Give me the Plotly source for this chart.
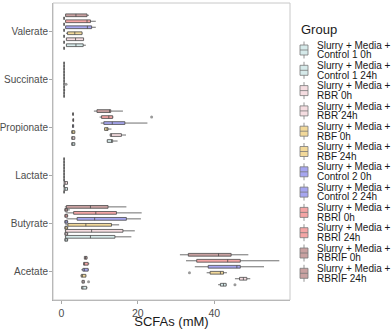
import plotly.graph_objects as go

categories = ["Acetate", "Butyrate", "Lactate", "Propionate", "Succinate", "Valerate"]
groups = ["Control 1 0h", "Control 1 24h", "RBR 0h", "RBR 24h", "RBF 0h", "RBF 24h",
          "Control 2 0h", "Control 2 24h", "RBRI 0h", "RBRI 24h", "RBRIF 0h", "RBRIF 24h"]
fills = ["#d6eaea", "#d6eaea", "#f5dde1", "#f5dde1", "#f2d99a", "#f2d99a",
         "#a6a6f0", "#a6a6f0", "#f4a5a5", "#f4a5a5", "#c9a1a1", "#c9a1a1"]

# one row per group, columns follow `categories`
lower = [
    [5.2, 0.8, 0.7, 2.6, 0.7, 0.7],
    [41.0, 0.9, 0.7, 11.9, 0.7, 1.2],
    [5.3, 0.8, 0.7, 2.6, 0.7, 0.7],
    [45.4, 0.9, 0.7, 12.6, 0.7, 1.2],
    [5.0, 0.8, 0.7, 2.6, 0.7, 0.7],
    [38.0, 1.0, 0.7, 11.2, 0.7, 1.2],
    [5.2, 0.8, 0.7, 2.8, 0.7, 0.7],
    [34.9, 1.3, 0.7, 10.3, 0.7, 1.0],
    [5.7, 0.8, 0.7, 2.9, 0.7, 0.7],
    [32.6, 1.1, 0.7, 10.0, 0.7, 1.0],
    [6.0, 0.8, 0.7, 2.9, 0.7, 0.7],
    [31.0, 0.9, 0.7, 8.5, 0.7, 1.0],
]
q1 = [
    [5.3, 0.9, 0.7, 2.7, 0.7, 0.7],
    [41.6, 1.1, 0.7, 12.0, 0.7, 1.3],
    [5.4, 0.9, 0.7, 2.7, 0.7, 0.7],
    [46.6, 1.1, 0.7, 12.8, 0.7, 1.3],
    [5.2, 0.9, 0.7, 2.7, 0.7, 0.7],
    [38.9, 1.7, 0.7, 11.3, 0.7, 1.6],
    [5.6, 0.9, 0.7, 2.9, 0.7, 0.7],
    [38.4, 4.1, 0.7, 11.1, 0.7, 1.1],
    [5.8, 0.9, 0.7, 3.0, 0.7, 0.7],
    [35.4, 3.2, 0.7, 10.5, 0.7, 1.1],
    [6.0, 0.9, 0.7, 3.0, 0.7, 0.7],
    [33.2, 1.3, 0.7, 9.3, 0.7, 1.1],
]
median = [
    [5.6, 1.1, 0.7, 2.9, 0.7, 0.7],
    [42.4, 7.6, 0.9, 13.1, 0.7, 3.8],
    [5.6, 1.1, 0.7, 2.9, 0.7, 0.7],
    [47.6, 7.9, 0.9, 13.1, 0.7, 3.7],
    [5.5, 1.1, 0.7, 2.9, 0.7, 0.7],
    [41.6, 6.4, 0.7, 12.0, 0.7, 3.5],
    [6.0, 1.1, 0.7, 3.0, 0.7, 0.7],
    [45.9, 8.7, 0.7, 13.3, 0.7, 6.8],
    [6.0, 1.1, 0.7, 3.1, 0.7, 0.7],
    [43.5, 9.0, 0.7, 12.4, 0.7, 6.7],
    [6.3, 1.0, 0.7, 3.0, 0.7, 0.7],
    [41.1, 7.6, 0.7, 12.6, 0.7, 3.8],
]
q3 = [
    [6.6, 1.6, 0.7, 3.5, 0.7, 0.7],
    [43.1, 14.0, 1.6, 13.4, 0.7, 5.7],
    [6.0, 1.6, 0.7, 3.5, 0.7, 0.7],
    [48.5, 16.1, 1.6, 15.7, 0.7, 5.8],
    [6.4, 1.6, 0.7, 3.5, 0.7, 0.7],
    [42.4, 13.1, 0.7, 12.2, 0.7, 5.4],
    [7.0, 1.6, 0.7, 3.2, 0.7, 0.7],
    [46.8, 17.0, 0.7, 16.6, 0.7, 7.9],
    [7.0, 1.6, 0.7, 3.2, 0.7, 0.7],
    [46.8, 14.4, 0.7, 13.4, 0.7, 7.6],
    [6.7, 1.6, 0.7, 3.1, 0.7, 0.7],
    [44.4, 12.2, 0.7, 12.9, 0.7, 6.7],
]
upper = [
    [6.8, 1.8, 0.7, 3.6, 0.7, 0.7],
    [43.2, 18.3, 1.7, 14.7, 0.7, 6.4],
    [6.1, 1.8, 0.7, 3.6, 1.0, 0.7],
    [49.4, 19.2, 1.7, 16.9, 0.7, 5.9],
    [6.5, 1.8, 0.7, 3.6, 0.7, 0.7],
    [43.3, 15.1, 0.7, 13.1, 0.7, 5.5],
    [7.2, 1.8, 0.7, 3.3, 0.7, 0.7],
    [53.0, 20.8, 0.7, 22.5, 0.7, 9.0],
    [7.3, 1.8, 0.7, 3.3, 0.7, 0.7],
    [57.0, 21.0, 0.7, 13.6, 0.7, 9.0],
    [6.8, 2.2, 0.7, 3.2, 0.7, 0.7],
    [48.9, 17.0, 0.7, 16.1, 0.7, 7.2],
]
outlier_group = [2, 5, 1, 9, 4]
outlier_cat = [0, 0, 0, 3, 4]
outlier_value = [7.1, 33.5, 45.4, 23.6, 1.2]

n = len(groups)
dodge = 0.75 / n


def slot(k):
    return -0.375 + dodge * (k + 0.5)


fig = go.Figure()

for k, g in enumerate(groups):
    fig.add_trace(go.Box(
        orientation="h",
        y=[c + slot(k) for c in range(len(categories))],
        q1=q1[k], median=median[k], q3=q3[k],
        lowerfence=lower[k], upperfence=upper[k],
        width=dodge * 0.92,
        whiskerwidth=0,
        fillcolor=fills[k],
        line=dict(color="#4a4a4a", width=0.8),
        name=g,
        showlegend=False,
    ))

fig.add_trace(go.Scatter(
    x=outlier_value,
    y=[c + slot(k) for c, k in zip(outlier_cat, outlier_group)],
    mode="markers",
    marker=dict(color="#9a9a9a", size=3),
    showlegend=False,
))

# plot area in pixels
L, R, T, B = 53, 290, 3, 300


def px(x):
    return (x - L) / (R - L)


def py(y):
    return (B - y) / (B - T)


shapes = [dict(type="rect", xref="paper", yref="paper", x0=0, x1=1, y0=0, y1=1,
               line=dict(color="#c8c8c8", width=1), layer="above")]
annotations = [dict(text="Group", xref="paper", yref="paper", x=px(299), y=py(29),
                    xanchor="left", yanchor="middle", showarrow=False,
                    font=dict(size=13, color="#1a1a1a"))]

for k, g in enumerate(groups):
    cy = 50 + 20.3 * k
    shapes.append(dict(type="line", xref="paper", yref="paper",
                       x0=px(304), x1=px(304), y0=py(cy - 8.5), y1=py(cy + 8.5),
                       line=dict(color="#7a7a7a", width=0.8)))
    shapes.append(dict(type="rect", xref="paper", yref="paper",
                       x0=px(300), x1=px(308), y0=py(cy - 5), y1=py(cy + 5),
                       fillcolor=fills[k], line=dict(color="#7a7a7a", width=0.8)))
    shapes.append(dict(type="line", xref="paper", yref="paper",
                       x0=px(300), x1=px(308), y0=py(cy), y1=py(cy),
                       line=dict(color="#7a7a7a", width=0.8)))
    annotations.append(dict(text="Slurry + Media +", xref="paper", yref="paper",
                            x=px(315), y=py(cy - 4.8), xanchor="left", yanchor="middle",
                            showarrow=False, font=dict(size=10, color="#1a1a1a")))
    annotations.append(dict(text=g, xref="paper", yref="paper",
                            x=px(315), y=py(cy + 4.8), xanchor="left", yanchor="middle",
                            showarrow=False, font=dict(size=10, color="#1a1a1a")))

fig.update_layout(
    width=392, height=329,
    margin=dict(l=L, r=392 - R, t=T, b=329 - B),
    font=dict(family="Liberation Sans, Arial, sans-serif", size=10, color="#4d4d4d"),
    paper_bgcolor="white", plot_bgcolor="white",
    boxmode="overlay",
    shapes=shapes,
    annotations=annotations,
    xaxis=dict(range=[-2.2, 59.8], tickvals=[0, 20, 40], showgrid=False, zeroline=False,
               showline=True, linecolor="#a8a8a8", linewidth=1,
               ticks="outside", ticklen=3, tickcolor="#a8a8a8",
               tickfont=dict(size=10.5, color="#4d4d4d"),
               title=dict(text="SCFAs (mM)", font=dict(size=13, color="#1a1a1a"), standoff=6),
               automargin=False),
    yaxis=dict(range=[-0.6, 5.6], tickvals=list(range(len(categories))), ticktext=categories,
               showgrid=False, zeroline=False,
               showline=True, linecolor="#a8a8a8", linewidth=1,
               ticks="outside", ticklen=3, tickcolor="#a8a8a8",
               tickfont=dict(size=10, color="#4d4d4d"), ticklabelstandoff=-1,
               automargin=False),
)

fig.write_html("out.html", config={"displayModeBar": False},
               post_script="document.body.style.margin='0px';")
